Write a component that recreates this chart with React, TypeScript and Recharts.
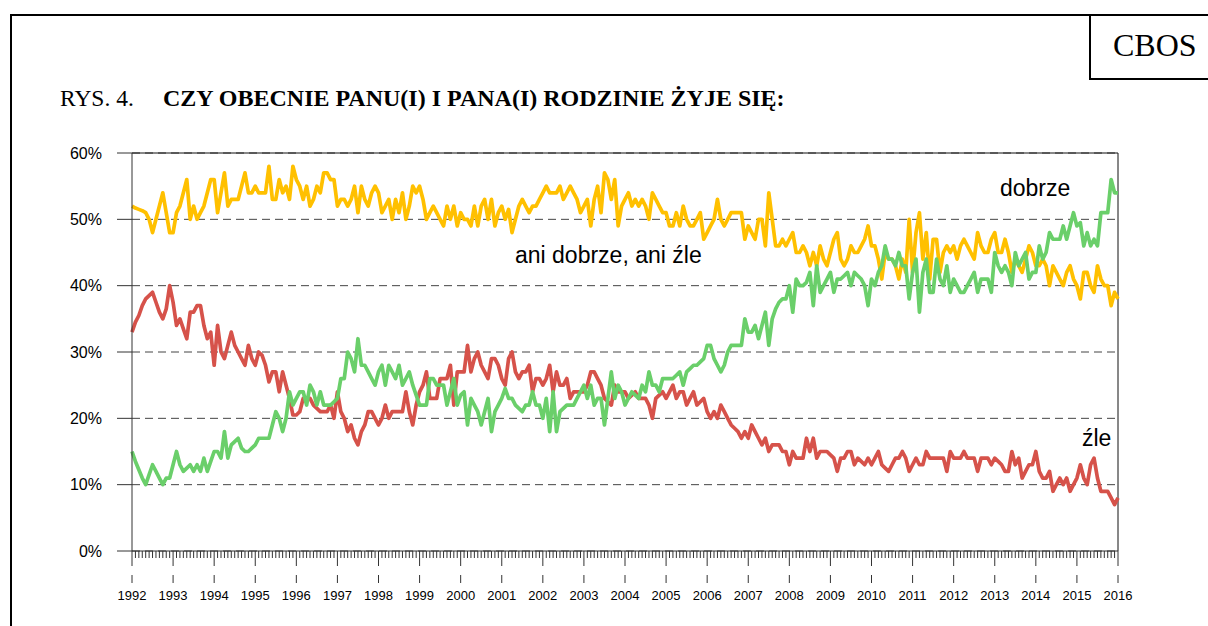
import React from 'react';
import { LineChart, Line, XAxis, YAxis, CartesianGrid, ReferenceLine } from 'recharts';

const YEARS = ['1992','1993','1994','1995','1996','1997','1998','1999','2000','2001','2002','2003','2004','2005','2006','2007','2008','2009','2010','2011','2012','2013','2014','2015','2016'];

const Y_TICKS = [0, 10, 20, 30, 40, 50, 60];

// ani dobrze, ani źle (monthly, Jan 1992 .. Jan 2016)
const ANI = [
  52, 51.7, 51.5, 51.3, 51, 50, 48, 50, 52, 54, 51, 48,
  48, 51, 52, 54, 56, 50, 52, 50, 51, 52, 54, 56,
  56, 51, 54, 57, 52, 53, 53, 53, 55, 57, 54, 54,
  55, 54, 54, 54, 58, 53, 53, 56, 54, 55, 53, 58,
  56, 55, 53, 55, 52, 53, 55, 54, 57, 57, 56, 56,
  52, 53, 53, 52, 53, 55, 51, 55, 53, 52, 54, 55,
  54, 51, 52, 53, 50, 53, 51, 54, 50, 52, 55, 54,
  55, 53, 50, 51, 52, 51, 50, 49, 52, 50, 52, 49,
  51, 50, 50, 49, 52, 49, 52, 53, 50, 53, 49, 51,
  52, 50, 51.5, 48, 50, 52, 53, 52, 51, 52, 52, 53,
  54, 55, 54, 54, 54, 55, 53, 54, 55, 54, 53, 51,
  52, 53, 49, 53, 55, 51, 57, 56, 53, 56, 49, 52,
  53, 54, 52, 53, 52, 53, 52, 50, 54, 53, 52, 51,
  51, 49, 49, 51, 49, 52, 50, 49, 49, 50, 51, 47,
  48, 49, 50, 53, 50, 49, 50, 51, 51, 51, 51, 47,
  49, 48, 47, 50, 50, 46, 54, 50, 46, 46, 47, 46,
  47, 48, 45, 45, 46, 45, 43, 45, 43, 46, 44, 43,
  45, 47, 48, 44, 43, 44, 46, 45, 45, 46, 47, 49,
  46, 46, 44, 41, 45, 44, 44, 43, 41, 44, 42, 50,
  42, 48, 51, 44, 48, 41, 47, 47, 42, 45, 46, 45,
  46, 44, 46, 47, 46, 45, 44, 48, 46, 45, 45, 47,
  48, 45, 45, 47, 45, 42, 44, 43, 42, 44, 46, 45,
  43, 43, 44, 43, 40, 43, 42, 41, 40, 42, 43, 41,
  40, 38, 42, 42, 40, 39, 43, 41, 40, 40, 37, 39,
  38,
];

// źle
const ZLE = [
  33, 34.5, 35.5, 37, 38, 38.5, 39, 37.5, 36, 35, 36.5, 40,
  37.5, 34, 35, 33.5, 32, 36, 36, 37, 37, 34, 32, 33,
  28, 34, 30, 29, 31, 33, 31, 30, 29, 28, 31, 29,
  28, 30, 29.5, 28, 25.5, 27, 27, 24, 27, 25, 23, 20.5,
  20.5, 21, 23, 23, 23, 22, 21.5, 21, 21, 21, 22, 20,
  24, 21, 20, 18, 19, 17, 16, 18, 19, 21, 21, 20,
  19, 20, 22, 20, 21, 21, 21, 21, 24, 21, 19, 22,
  24, 25, 27, 23, 23, 23, 26, 26, 26, 28, 22, 27,
  27, 27, 31, 27, 29, 30, 28, 27, 26, 29, 29, 28,
  26, 25, 29, 30, 27, 26, 27, 27, 28, 24, 26, 26,
  25, 26, 28, 24, 27, 25, 25, 26, 23, 24, 24, 24,
  24, 25, 27, 27, 26, 25, 23, 22.5, 22, 25, 24, 24,
  24, 23, 23.5, 24, 23, 23, 23, 22, 20, 23, 23.5, 24,
  23, 24, 25, 23, 24, 24, 22, 23, 24, 22, 22.5, 23,
  21, 20, 21, 20, 22, 21, 20, 19, 18.5, 18, 17, 18,
  17, 19, 18, 17, 16, 17, 15, 16, 16, 16, 15, 15,
  13, 15, 14, 14, 14, 17, 15, 17, 14, 15, 15, 15,
  14.5, 14, 12, 14, 14, 15, 15, 13, 14, 13.5, 13, 14,
  13, 14, 15, 13, 12.5, 12, 13, 14, 14, 15, 14, 12,
  13, 14, 13, 13, 15, 14, 14, 14, 14, 14, 12, 15,
  14, 14, 14, 15, 14, 14, 14, 12, 14, 14, 14, 13,
  14, 13.5, 13, 12, 12, 15, 13, 14, 11, 12, 13, 13,
  15, 12, 11, 11, 12, 9, 10, 11, 10, 11, 9, 10,
  11, 13, 11, 10, 13, 14, 11, 9, 9, 9, 8, 7,
  8,
];

// dobrze
const DOBRZE = [
  15, 13.5, 12.25, 11, 10, 11.5, 13, 12, 11, 10, 11, 11,
  13, 15, 13, 12, 12.5, 13, 12, 13, 12, 14, 12, 13.5,
  15, 15, 14, 18, 14, 16, 16.5, 17, 15.5, 15, 15, 15.5,
  16, 17, 17, 17, 17, 19, 21, 20, 18, 20, 24, 22,
  23, 24, 24, 22, 25, 24, 22, 24, 22, 22, 22, 22.5,
  23, 26, 26, 30, 29, 27, 32, 28, 28, 27, 26, 25,
  27, 28, 25, 28, 27, 26, 28, 25, 26, 27, 25, 23.5,
  22, 22, 22, 26, 26, 25, 25, 25, 22, 24, 26, 22,
  23.5, 24, 19, 23, 22, 21, 19, 21, 23, 18, 21, 22,
  23, 24.5, 23, 23, 22, 21.5, 21, 22, 22, 24, 22, 22,
  20, 23, 18, 24, 18, 21, 21.5, 22, 22, 22, 23, 24,
  25, 23, 25, 22, 23, 23, 19, 23, 27, 23, 25, 24,
  22, 23, 24, 23.5, 23, 25, 24, 27, 25, 25, 24, 26,
  26, 26, 26, 26.5, 27, 25, 27, 27.5, 28, 28, 28.5, 29,
  31, 31, 29, 28, 27, 28, 30, 31, 31, 31, 31, 35,
  33, 33, 34, 32, 34, 36, 31, 35, 36.5, 37.5, 38, 38,
  40, 36, 41, 40, 40, 40.5, 42, 37, 43, 39, 40, 41,
  42, 39, 41, 41, 41.5, 42, 40, 42, 41.5, 41, 40, 37,
  41, 40, 42, 43, 46, 44, 44, 43, 45, 43, 43, 38,
  42, 44, 36, 42, 44, 39, 39, 44, 41, 40, 43, 39,
  41, 40, 39, 39, 40, 41, 42, 39, 41, 41, 41, 39,
  45, 43, 42, 43, 42, 40, 45, 43, 44, 45, 41, 42,
  42, 46, 44, 45, 48, 47, 47, 47, 49, 47, 49, 51,
  49, 49.5, 46, 48, 46, 47, 46, 51, 51, 51, 56, 54,
  54,
];

const data = ANI.map((v, i) => ({ m: i, ani: v, zle: ZLE[i], dobrze: DOBRZE[i] }));
const MONTH_TICKS = data.map((d) => d.m);
const LAST = data.length - 1;

const AX = '#333';
const SANS = '"Liberation Sans", Arial, sans-serif';
const SERIF = '"Liberation Serif", "Times New Roman", serif';

const XTick = (props: any) => {
  const { x, y, payload } = props;
  const m = payload.value;
  if (m % 12 === 0) {
    return (
      <g>
        <line x1={x} x2={x} y1={y} y2={y + 15} stroke={AX} strokeWidth={1} />
        <line x1={x} x2={x} y1={y + 24} y2={y + 32} stroke={AX} strokeWidth={1} />
        <text x={x} y={y + 49} textAnchor="middle" fontSize={13} fontFamily={SANS} fill="#000">
          {YEARS[m / 12]}
        </text>
      </g>
    );
  }
  return <line x1={x} x2={x} y1={y} y2={y + 7} stroke={AX} strokeWidth={1} />;
};

export default function App() {
  return (
    <div style={{ position: 'absolute', left: 0, top: 0, width: 1208, height: 626, background: '#fff', overflow: 'hidden' }}>
      <LineChart width={1208} height={626} data={data} margin={{ top: 153, right: 90, bottom: 15, left: 72 }}>
        <CartesianGrid horizontal vertical={false} stroke="#444" strokeDasharray="8 5" />
        <XAxis
          dataKey="m"
          type="number"
          domain={[0, LAST]}
          ticks={MONTH_TICKS}
          interval={0}
          tick={<XTick />}
          tickLine={false}
          tickSize={0}
          tickMargin={0}
          height={60}
          axisLine={{ stroke: AX }}
        />
        <YAxis
          type="number"
          domain={[0, 60]}
          ticks={Y_TICKS}
          interval={0}
          width={60}
          tickSize={15}
          tickMargin={15}
          tickLine={{ stroke: AX }}
          axisLine={{ stroke: AX }}
          tick={{ fill: '#000', fontSize: 16, fontFamily: SANS }}
          tickFormatter={(v: number) => `${v}%`}
        />
        <ReferenceLine y={60} stroke="#111" strokeWidth={1} />
        <ReferenceLine x={LAST} stroke="#111" strokeWidth={1} />
        <Line type="linear" dataKey="ani" stroke="#FFC000" strokeWidth={3.7} dot={false} isAnimationActive={false} strokeLinejoin="round" />
        <Line type="linear" dataKey="zle" stroke="#D6524A" strokeWidth={3.7} dot={false} isAnimationActive={false} strokeLinejoin="round" />
        <Line type="linear" dataKey="dobrze" stroke="#6ACF6A" strokeWidth={3.7} dot={false} isAnimationActive={false} strokeLinejoin="round" />
      </LineChart>
      <svg width={1208} height={626} style={{ position: 'absolute', left: 0, top: 0, pointerEvents: 'none' }}>
        <line x1={11} y1={14} x2={11} y2={626} stroke="#000" strokeWidth={2} />
        <line x1={10} y1={15} x2={1208} y2={15} stroke="#000" strokeWidth={2} />
        <line x1={1090} y1={15} x2={1090} y2={80} stroke="#000" strokeWidth={2} />
        <line x1={1089} y1={79} x2={1208} y2={79} stroke="#000" strokeWidth={2} />
        <text x={1113} y={56} fontSize={32} fontFamily={SERIF} fill="#000">CBOS</text>
        <text x={60} y={106} fontSize={23.5} fontFamily={SERIF} fill="#000">RYS. 4.</text>
        <text x={163} y={106} fontSize={24} fontFamily={SERIF} fontWeight="bold" fill="#000">CZY OBECNIE PANU(I) I PANA(I) RODZINIE ŻYJE SIĘ:</text>
        <text x={1000} y={196} fontSize={23} fontFamily={SANS} fill="#000">dobrze</text>
        <text x={515} y={263} fontSize={23} fontFamily={SANS} fill="#000">ani dobrze, ani źle</text>
        <text x={1082} y={446} fontSize={23} fontFamily={SANS} fill="#000">źle</text>
      </svg>
    </div>
  );
}
